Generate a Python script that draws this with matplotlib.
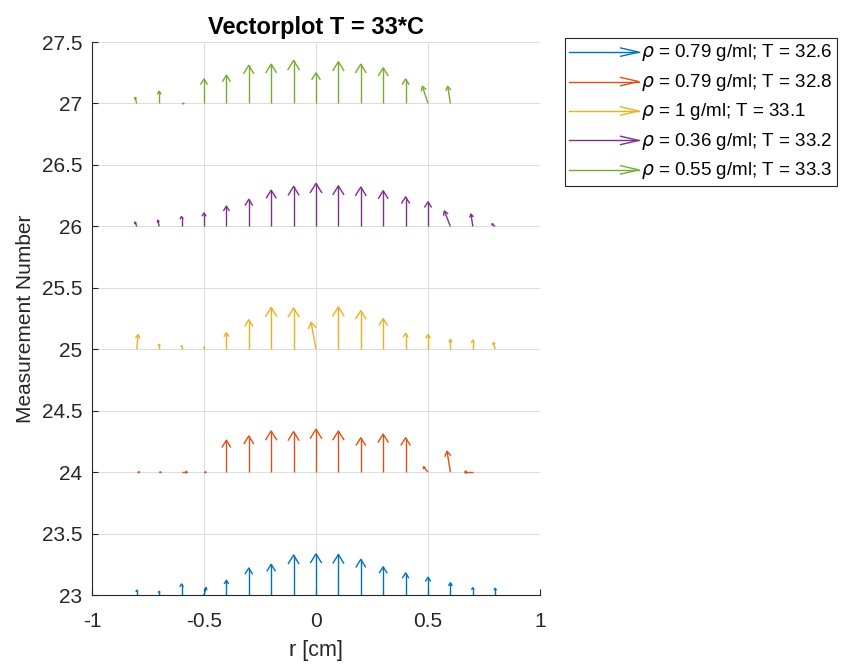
import numpy as np
import matplotlib.pyplot as plt
from matplotlib.legend_handler import HandlerBase
from matplotlib.lines import Line2D

plt.rcParams["font.family"] = ["Liberation Sans", "DejaVu Sans"]

# radial positions of the measured vectors [cm]
r = [-0.8, -0.7, -0.6, -0.5, -0.4, -0.3, -0.2, -0.1, 0.0,
     0.1, 0.2, 0.3, 0.4, 0.5, 0.6, 0.7, 0.8]

meas_no = [23, 24, 25, 26, 27]
labels = [
    r"$\rho$ = 0.79 g/ml; T = 32.6",
    r"$\rho$ = 0.79 g/ml; T = 32.8",
    r"$\rho$ = 1 g/ml; T = 33.1",
    r"$\rho$ = 0.36 g/ml; T = 33.2",
    r"$\rho$ = 0.55 g/ml; T = 33.3",
]
colors = ["#0072BD", "#D95319", "#EDB120", "#7E2F8E", "#77AC30"]

# vector components (u: radial, v: axial) per measurement
u_23 = [0, 0, 0, 0.01, 0, 0, 0, 0, 0, 0, 0, 0, 0, 0, 0, 0, 0]
v_23 = [0.04, 0.03, 0.09, 0.06, 0.12, 0.22, 0.25, 0.325, 0.335,
        0.33, 0.29, 0.23, 0.18, 0.145, 0.10, 0.06, 0.055]

u_24 = [0.012, 0.006, 0.025, 0.008, 0, 0, 0, 0, 0,
        0, 0, 0, 0, -0.021, -0.015, -0.037, 0]
v_24 = [0, 0, 0, 0, 0.26, 0.295, 0.335, 0.33, 0.35,
        0.335, 0.28, 0.31, 0.28, 0.043, 0.17, 0, 0]

u_25 = [0.006, 0, 0, 0, 0, 0, 0, 0, -0.022,
        0, 0, 0, 0, 0, 0, 0, -0.008]
v_25 = [0.12, 0.04, 0.03, 0.02, 0.135, 0.24, 0.34, 0.335, 0.22,
        0.345, 0.315, 0.25, 0.13, 0.12, 0.08, 0.075, 0.055]

u_26 = [-0.008, -0.006, 0, 0, 0, 0, 0, 0, 0,
        0, 0, 0, 0, 0, -0.027, -0.008, -0.015]
v_26 = [0.035, 0.05, 0.08, 0.11, 0.165, 0.22, 0.295, 0.325, 0.35,
        0.33, 0.32, 0.29, 0.24, 0.20, 0.125, 0.10, 0.02]

u_27 = [-0.008, 0, 0.01, 0, 0, 0, 0, 0, 0,
        0, 0, 0, 0, -0.025, -0.012, 0, 0]
v_27 = [0.05, 0.10, 0, 0.20, 0.23, 0.31, 0.32, 0.35, 0.25,
        0.34, 0.32, 0.29, 0.20, 0.14, 0.14, 0, 0]

U = [u_23, u_24, u_25, u_26, u_27]
V = [v_23, v_24, v_25, v_26, v_27]

fig = plt.figure(figsize=(8.46, 6.64), dpi=100)
ax = fig.add_axes([0.1087, 0.1039, 0.5296, 0.8328])
ax.set_xlim(-1, 1)
ax.set_ylim(23, 27.5)


def quiver_open(ax, x, y, u, v, color, head_len=0.21, head_w=0.13):
    """MATLAB-style quiver: shaft plus open V head, head scaled with length."""
    to_px = ax.transData
    to_data = ax.transData.inverted()
    for xi, yi, ui, vi in zip(x, y, u, v):
        p0 = to_px.transform((xi, yi))
        p1 = to_px.transform((xi + ui, yi + vi))
        d = p1 - p0
        L = np.hypot(*d)
        if L < 0.5:
            continue
        ax.plot([xi, xi + ui], [yi, yi + vi], color=color, lw=1.0,
                solid_capstyle="butt")
        t = d / L
        n = np.array([-t[1], t[0]])
        back = p1 - t * head_len * L
        w1 = to_data.transform(back + n * head_w * L)
        w2 = to_data.transform(back - n * head_w * L)
        ax.plot([w1[0], xi + ui, w2[0]], [w1[1], yi + vi, w2[1]],
                color=color, lw=1.0)


for m, u, v, c in zip(meas_no, U, V, colors):
    quiver_open(ax, r, [m] * len(r), u, v, c)


class ArrowHandler(HandlerBase):
    def create_artists(self, legend, orig, xd, yd, width, height, fontsize, trans):
        c = orig.get_color()
        y = height / 2 - yd - 1
        x0, x1 = -xd, -xd + width
        shaft = Line2D([x0, x1], [y, y], color=c, lw=1.0)
        head = Line2D([x1 - 13, x1, x1 - 13], [y + 3, y, y - 3], color=c, lw=1.0)
        for a in (shaft, head):
            a.set_transform(trans)
        return [shaft, head]


handles = [Line2D([], [], color=c) for c in colors]
leg = ax.legend(handles, labels, handler_map={Line2D: ArrowHandler()},
                loc="upper left", bbox_to_anchor=(1.055, 1.008),
                fontsize=13.5, handlelength=3.7, handletextpad=0.1,
                labelspacing=0.45, borderpad=0.25, borderaxespad=0,
                fancybox=False, framealpha=1)
leg.get_frame().set_edgecolor("#262626")
leg.get_frame().set_linewidth(0.8)

ax.set_xticks([-1, -0.5, 0, 0.5, 1])
ax.set_xticklabels(["-1", "-0.5", "0", "0.5", "1"])
ax.set_yticks(np.arange(23, 27.51, 0.5))
ax.set_yticklabels(["23", "23.5", "24", "24.5", "25", "25.5", "26", "26.5", "27", "27.5"])
ax.tick_params(direction="in", length=4, width=0.8, labelsize=15,
               colors="#262626", pad=7)
ax.tick_params(axis="x", pad=12)
ax.grid(True, color="#dcdcdc", lw=0.7)
ax.set_axisbelow(True)
for side in ("top", "right"):
    ax.spines[side].set_visible(False)
for side in ("left", "bottom"):
    ax.spines[side].set_color("#262626")
    ax.spines[side].set_linewidth(0.8)

ax.set_xlabel("r [cm]", fontsize=15.5, color="#262626", labelpad=7)
ax.set_ylabel("Measurement Number", fontsize=15, color="#262626", labelpad=5)
ax.set_title("Vectorplot T = 33*C", fontsize=17, fontweight="bold", pad=6)

fig.savefig("out.png", dpi=100)
